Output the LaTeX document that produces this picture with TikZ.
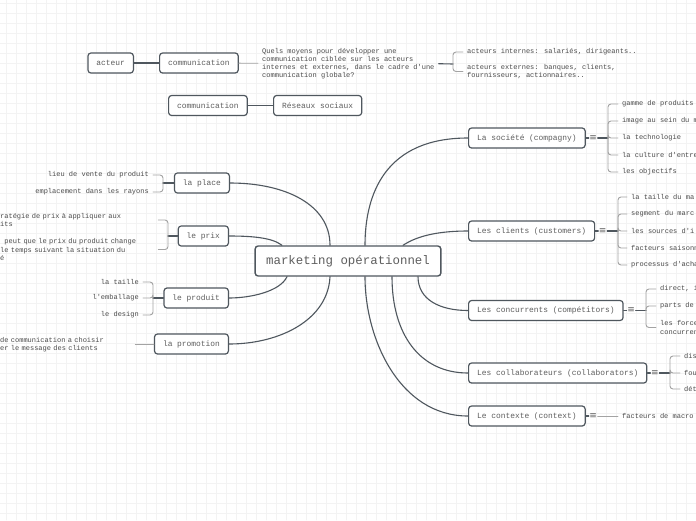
\documentclass[tikz,border=0pt]{standalone}
\usepackage{fontspec}
\newfontfamily\mapfont{Liberation Mono}
\newfontfamily\symfont{DejaVu Sans}
\usetikzlibrary{positioning}
\definecolor{inkline}{HTML}{4F575E}
\definecolor{boxtext}{HTML}{5E5E5E}
\definecolor{leaftext}{HTML}{4A4A4A}
\definecolor{bracecol}{HTML}{A3A3A3}
\definecolor{paper}{HTML}{F3F3F3}

\begin{document}
\begin{tikzpicture}[x=1pt,y=-1pt,line cap=round,line join=round,
  link/.style={draw=inkline,line width=1.1pt},
  topic/.style={draw=inkline,line width=1.4pt,rounded corners=3pt,fill=white,
    minimum height=30pt,inner xsep=11pt,font=\mapfont\fontsize{12.4}{14}\selectfont,text=boxtext},
  branch/.style={draw=inkline,line width=1.2pt,rounded corners=3pt,fill=white,
    minimum height=20pt,inner xsep=8.5pt,inner ysep=2pt,font=\mapfont\fontsize{7.9}{9}\selectfont,text=boxtext},
  leaf/.style={inner xsep=4pt,inner ysep=1pt,align=left,font=\mapfont\fontsize{7}{8.2}\selectfont,text=leaftext},
  bracket/.style={draw=bracecol,line width=.9pt,rounded corners=3pt},
  menu/.style={inner sep=.5pt,font=\symfont\fontsize{9}{9}\selectfont,text=boxtext},
  gridline/.style={draw=paper,line width=.6pt}]

\useasboundingbox (0,0) rectangle (696,520);
\clip (0,0) rectangle (696,520);
\fill[white] (0,0) rectangle (696,520);

% Paper grid.
\foreach \gx in {6,16,...,696}
  \draw[gridline] (\gx,0) -- (\gx,520);
\foreach \gy in {3,13,...,513}
  \draw[gridline] (0,\gy) -- (696,\gy);

% Centre topic.
\node[topic] (main) at (348,261) {marketing opérationnel};

% Floating topics at the top.
\node[branch,anchor=east] (act) at (134,63) {acteur};
\node[branch,anchor=west] (com) at (159,63) {communication};
\node[leaf,anchor=west] (quest) at (258,63.7)
  {Quels moyens pour développer une\\communication ciblée sur les acteurs\\internes et externes, dans le cadre d'une\\communication globale?};
\coordinate (questh) at (453,64);
\node[leaf,anchor=west] (quest1) at (463,52) {acteurs internes: salariés, dirigeants..};
\node[leaf,anchor=west] (quest2) at (463,71.5) {acteurs externes: banques, clients,\\fournisseurs, actionnaires..};
\draw[link] (act) -- (com);
\draw[bracket] (com) -- (quest);
\draw[link] (quest.east) -- (questh);
\draw[bracket] (questh) |- (quest1.west);
\draw[bracket] (questh) |- (quest2.west);

\node[branch,anchor=west] (com2) at (168,105.5) {communication};
\node[branch,anchor=west] (res) at (273,105.5) {Réseaux sociaux};
\draw[link] (com2) -- (res);

% Right branches.
\node[branch,anchor=west] (soc) at (468,138) {La société (compagny)};
\node[branch,anchor=west] (cli) at (468,231) {Les clients (customers)};
\node[branch,anchor=west] (conc) at (468,310.5) {Les concurrents (compétitors)};
\node[branch,anchor=west] (collab) at (468,373) {Les collaborateurs (collaborators)};
\node[branch,anchor=west] (ctx) at (468,416) {Le contexte (context)};

\draw[link] ([xshift=17pt]main.north) .. controls +(0,-51) and +(-83,0) .. (soc.west);
\draw[link] ([xshift=55pt]main.north) .. controls +(15,-10) and +(-28,0) .. (cli.west);
\draw[link] ([xshift=70pt]main.south) .. controls +(0,23) and +(-28,0) .. (conc.west);
\draw[link] ([xshift=44pt]main.south) .. controls +(0,58) and +(-48,0) .. (collab.west);
\draw[link] ([xshift=17pt]main.south) .. controls +(0,63) and +(-68,0) .. (ctx.west);

% Sub-topics of the right branches.
\foreach \name/\hx in {soc/608,cli/618,conc/646,collab/670}
{
  \node[menu,right=3pt of \name] (\name m) {≡};
  \coordinate (\name h) at (\hx,0 |- \name.east);
  \draw[link] (\name) -- (\name m);
  \draw[link] (\name m) -- (\name h);
}
\foreach \i/\yy/\txt in {1/104/gamme de produits,2/121/image au sein du m,
  3/138/la technologie,4/155/la culture d'entre,5/172/les objectifs}
{
  \node[leaf,anchor=west] (soc\i) at (618,\yy) {\txt};
  \draw[bracket] (soch) |- (soc\i.west);
}
\foreach \i/\yy/\txt in {1/197/la taille du ma,2/214/segment du marc,
  3/231/les sources d'i,4/248/facteurs saisonn,5/265/processus d'acha}
{
  \node[leaf,anchor=west] (cli\i) at (627,\yy) {\txt};
  \draw[bracket] (clih) |- (cli\i.west);
}
\foreach \i/\yy/\txt in {1/289/{direct, i},2/306/parts de,3/327.5/les force\\concurren}
{
  \node[leaf,anchor=west] (conc\i) at (656,\yy) {\txt};
  \draw[bracket] (conch) |- (conc\i.west);
}
\foreach \i/\yy/\txt in {1/356/dis,2/373/fou,3/389/dét}
{
  \node[leaf,anchor=west] (collab\i) at (680,\yy) {\txt};
  \draw[bracket] (collabh) |- (collab\i.west);
}
\node[menu,right=3pt of ctx] (ctxm) {≡};
\node[leaf,anchor=west] (ctx1) at (618,416) {facteurs de macro};
\draw[link] (ctx) -- (ctxm);
\draw[bracket] (ctxm) -- (ctx1);

% Left branches.
\node[branch,anchor=east] (place) at (230,183) {la place};
\node[branch,anchor=east] (prix) at (229,236) {le prix};
\node[branch,anchor=east] (prod) at (229,298) {le produit};
\node[branch,anchor=east] (promo) at (229,344) {la promotion};

\draw[link] ([xshift=-18pt]main.north) .. controls +(0,-41) and +(55,0) .. (place.east);
\draw[link] ([xshift=-66pt]main.north) .. controls +(-10,-8) and +(21,0) .. (prix.east);
\draw[link] ([xshift=-61pt]main.south) .. controls +(-7,15) and +(21,0) .. (prod.east);
\draw[link] ([xshift=-18pt]main.south) .. controls +(-2,43) and +(51,0) .. (promo.east);

% Sub-topics of the left branches.
\coordinate (placeh) at (163,183);
\draw[link] (place) -- (placeh);
\foreach \i/\yy/\txt in {1/175/lieu de vente du produit,2/192/emplacement dans les rayons}
{
  \node[leaf,anchor=east] (place\i) at (153,\yy) {\txt};
  \draw[bracket] (placeh) |- (place\i.east);
}

\coordinate (prixh) at (168,236);
\draw[link] (prix) -- (prixh);
\node[leaf,anchor=west,text width=154pt] (prix1) at (-4,220)
  {ratégie de prix à appliquer aux\\its};
\node[leaf,anchor=west,text width=154pt] (prix2) at (-4,249.5)
  {\phantom{i}peut que le prix du produit change\\le temps suivant la situation du\\é};
\draw[bracket] (prixh) |- (prix1.east);
\draw[bracket] (prixh) |- (prix2.east);

\coordinate (prodh) at (153,298);
\draw[link] (prod) -- (prodh);
\foreach \i/\yy/\txt in {1/282/la taille,2/298/l'emballage,3/315/le design}
{
  \node[leaf,anchor=east] (prod\i) at (143,\yy) {\txt};
  \draw[bracket] (prodh) |- (prod\i.east);
}

\node[leaf,anchor=west,text width=131pt] (promo1) at (-4,345)
  {de communication a choisir\\er le message des clients};
\draw[bracket] (promo.west) -- (promo1.east |- promo.west);

\end{tikzpicture}
\end{document}
